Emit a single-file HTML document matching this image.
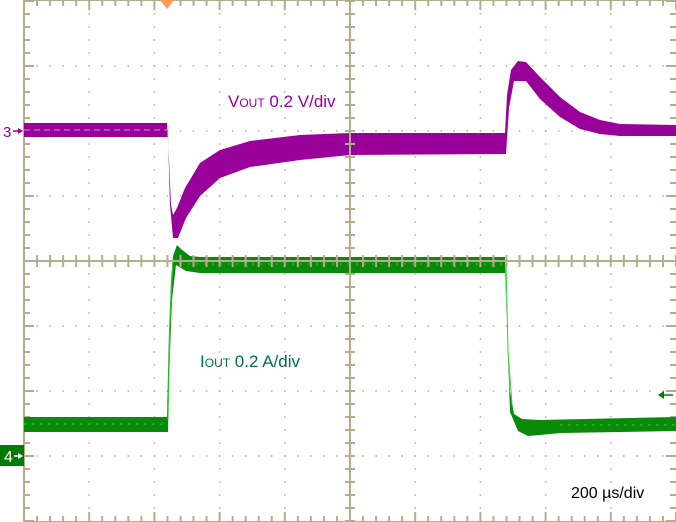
<!DOCTYPE html>
<html><head><meta charset="utf-8"><style>
html,body{margin:0;padding:0;background:#fff;}
svg{display:block;}
text{font-family:"Liberation Sans",sans-serif;}
</style></head><body>
<svg id="s" width="676" height="522" viewBox="0 0 676 522" xmlns="http://www.w3.org/2000/svg">
<rect width="676" height="522" fill="#fff"/>
<g id="grid"></g>
<!-- VOUT -->
<polygon fill="#990099" points="24,123 167,123 169,160 171,205 173,215 177,208 185,188 200,163 220,150 250,141 300,135 350,133 505,133 507,95 511,70 518,61 526,62 540,77 560,97 580,112 600,120 620,124 676,125 676,136 620,136 600,134 580,129 560,117 540,99 526,81 514,81 509,108 506,154 350,155 300,160 250,167 220,178 200,196 186,218 178,238 173,238 170,205 168,137 24,137"/>
<line x1="24" y1="130" x2="167" y2="130" stroke="#d98ad9" stroke-width="1" stroke-dasharray="6,4"/>
<!-- IOUT -->
<polygon fill="#0a8a0a" points="24,417 167,417 169,330 171,280 173,256 177,245 181,249 190,256 200,257 505,257 507,330 510,392 514,414 522,419 540,420 676,417 676,431 560,433 540,435 528,436 518,431 510,412 506,300 505,273 200,273 186,271 176,265 172,300 169,380 168,432 24,432"/>
<line x1="24" y1="424" x2="167" y2="424" stroke="#33cc33" stroke-width="1" stroke-dasharray="3,5"/>
<line x1="180" y1="264" x2="505" y2="264" stroke="#33cc33" stroke-width="1" stroke-dasharray="2,6"/>
<line x1="560" y1="425" x2="676" y2="425" stroke="#33cc33" stroke-width="1" stroke-dasharray="3,5"/>
<polyline fill="none" stroke="#33cc33" stroke-width="1" points="168,420 170,320 173,258"/>
<polyline fill="none" stroke="#33cc33" stroke-width="1" points="506,262 508,350 512,405"/>
<g id="axis"></g>
<!-- markers -->
<polygon points="160,0 174,0 167,9" fill="#ff9955"/>
<text x="3" y="137" font-size="15" fill="#990099">3</text>
<line x1="13" y1="131" x2="22" y2="131" stroke="#990099" stroke-width="1.5"/>
<polygon points="23,131 18,128 18,134" fill="#990099"/>
<rect x="0" y="445" width="24" height="21" fill="#007a00"/>
<text x="4" y="462" font-size="16" fill="#fff">4</text>
<line x1="14" y1="456" x2="22" y2="456" stroke="#fff" stroke-width="1.5"/>
<polygon points="23,456 18,453 18,459" fill="#fff"/>
<line x1="660" y1="395" x2="673" y2="395" stroke="#007a00" stroke-width="1.5"/>
<polygon points="658,395 664,391 664,399" fill="#007a00"/>
<text x="228" y="107" font-size="17" fill="#990099">V<tspan font-size="12">OUT</tspan> 0.2 V/div</text>
<text x="200" y="367" font-size="17" fill="#006e4a">I<tspan font-size="12">OUT</tspan> 0.2 A/div</text>
<text x="571" y="498" font-size="16" fill="#000">200 µs/div</text>
</svg>
<script>
var NS="http://www.w3.org/2000/svg",g=document.getElementById('grid'),a=document.getElementById('axis');
var C="#b3ad8e";
function el(p,t,o){var e=document.createElementNS(NS,t);for(var k in o)e.setAttribute(k,o[k]);p.appendChild(e);return e;}
var X0=24,dx=65.2,Y0=1,dy=65;
for(var i=1;i<10;i++){if(i==5)continue;var x=X0+i*dx;
 for(var j=0;j<40;j++){var y=Y0+j*dy/5;el(g,'rect',{x:x-0.75,y:y-0.75,width:1.5,height:1.5,fill:C});}}
for(var j=1;j<8;j++){if(j==4)continue;var y=Y0+j*dy;
 for(var i=0;i<50;i++){var x=X0+i*dx/5;el(g,'rect',{x:x-0.75,y:y-0.75,width:1.5,height:1.5,fill:C});}}
el(g,'rect',{x:X0,y:Y0-1,width:676-X0+2,height:522,fill:'none',stroke:C,'stroke-width':2});
for(var j=0;j<=40;j++){var y=Y0+j*dy/5,L=(j%5==0)?10:6;
 el(g,'line',{x1:X0,y1:y,x2:X0+L,y2:y,stroke:C,'stroke-width':2});
 el(g,'line',{x1:676-L,y1:y,x2:676,y2:y,stroke:C,'stroke-width':2});}
for(var i=0;i<=50;i++){var x=X0+i*dx/5,L=(i%5==0)?10:6;
 el(g,'line',{x1:x,y1:0,x2:x,y2:L,stroke:C,'stroke-width':2});
 el(g,'line',{x1:x,y1:522-L,x2:x,y2:522,stroke:C,'stroke-width':2});}
var cx=X0+5*dx,cy=Y0+4*dy;
el(a,'line',{x1:cx,y1:0,x2:cx,y2:522,stroke:C,'stroke-width':2});
el(a,'line',{x1:X0,y1:cy,x2:676,y2:cy,stroke:C,'stroke-width':2});
for(var j=0;j<=40;j++){var y=Y0+j*dy/5;el(a,'line',{x1:cx-5,y1:y,x2:cx+5,y2:y,stroke:C,'stroke-width':2});}
for(var i=0;i<=50;i++){var x=X0+i*dx/5;el(a,'line',{x1:x,y1:cy-6,x2:x,y2:cy+6,stroke:C,'stroke-width':2});}
</script>
</body></html>
